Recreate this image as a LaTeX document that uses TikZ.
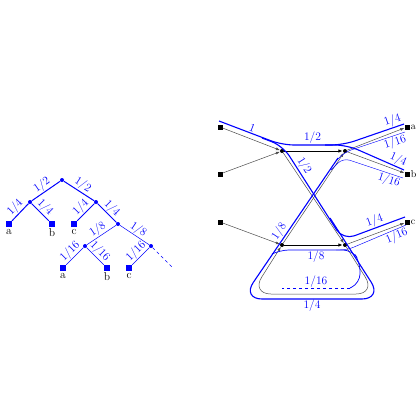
\documentclass[tikz,border=0pt]{standalone}
\usetikzlibrary{arrows.meta}
\begin{document}
\begin{tikzpicture}[x=1pt,y=-1pt,
  dot/.style={circle,fill=blue,inner sep=0pt,minimum size=4pt},
  leaf/.style={rectangle,fill=blue,inner sep=0pt,minimum size=6pt},
  bdot/.style={circle,fill=black,inner sep=0pt,minimum size=4pt},
  sq/.style={rectangle,fill=black,inner sep=0pt,minimum size=5pt},
  tedge/.style={blue,line width=1pt},
  tthin/.style={blue,line width=0.5pt},
  lab/.style={blue,inner sep=0.8pt,font=\fontsize{11.5}{13}\selectfont},
  llab/.style={font=\fontsize{11.5}{13}\selectfont,inner sep=1.5pt},
  garr/.style={draw=black!70,line width=0.5pt,-{Latex[length=4pt,width=3pt]}},
  barr/.style={black,line width=0.9pt,-{Latex[length=4.5pt,width=3.5pt]}},
  fA/.style={blue,line width=1.1pt,rounded corners=12pt},
  fB/.style={blue,line width=0.7pt,rounded corners=9pt},
  fC/.style={blue,line width=0.45pt,rounded corners=7pt},
]
\useasboundingbox (0,0) rectangle (420,420);
% ---------- tree ----------
\node[dot] (r) at (62,180) {};
\node[dot] (n1) at (30,202) {};
\node[dot] (n2) at (96,202) {};
\node[leaf] (a1) at (9,224) {};
\node[leaf] (b1) at (52,224) {};
\node[leaf] (c1) at (74,224) {};
\node[dot] (n3) at (118,224) {};
\node[dot] (n4) at (85,246) {};
\node[dot] (n5) at (151,246) {};
\node[leaf] (a2) at (63,268) {};
\node[leaf] (b2) at (107,268) {};
\node[leaf] (c2) at (129,268) {};
\coordinate (e) at (173,268);
\node[llab,below=0pt] (la1) at (a1.south) {a};
\node[llab,below=0pt] (lb1) at (b1.south) {b};
\node[llab,below=0pt] (lc1) at (c1.south) {c};
\node[llab,below=0pt] (la2) at (a2.south) {a};
\node[llab,below=0pt] (lb2) at (b2.south) {b};
\node[llab,below=0pt] (lc2) at (c2.south) {c};
\draw[tedge] (r) -- node[lab,above,sloped]{1/2} (n1);
\draw[tedge] (r) -- node[lab,above,sloped]{1/2} (n2);
\draw[tedge] (n1) -- node[lab,above,sloped]{1/4} (a1);
\draw[tedge] (n1) -- node[lab,above,sloped]{1/4} (b1);
\draw[tedge] (n2) -- node[lab,above,sloped]{1/4} (c1);
\draw[tedge] (n2) -- node[lab,above,sloped]{1/4} (n3);
\draw[tthin] (n3) -- node[lab,above,sloped]{1/8} (n4);
\draw[tthin] (n3) -- node[lab,above,sloped]{1/8} (n5);
\draw[tthin] (n4) -- node[lab,above,sloped]{1/16} (a2);
\draw[tthin] (n4) -- node[lab,above,sloped]{1/16} (b2);
\draw[tthin] (n5) -- node[lab,above,sloped]{1/16} (c2);
\draw[tthin,dashed] (n5) -- (e);
% ---------- network ----------
\node[sq] (s1) at (220,127) {};
\node[sq] (s2) at (220,174) {};
\node[sq] (s3) at (220,222) {};
\node[bdot] (A) at (282,151) {};
\node[bdot] (B) at (345,151) {};
\node[bdot] (C) at (282,245) {};
\node[bdot] (D) at (345,245) {};
\node[sq] (ta) at (407,127) {};
\node[sq] (tb) at (407,174) {};
\node[sq] (tc) at (407,222) {};
\node[right=0pt,inner sep=1pt] (lta) at (ta.east) {a};
\node[right=0pt,inner sep=1pt] (ltb) at (tb.east) {b};
\node[right=0pt,inner sep=1pt] (ltc) at (tc.east) {c};
\draw[garr] (s1) -- (A);
\draw[garr] (s2) -- (A);
\draw[garr] (s3) -- (C);
\draw[barr] (A) -- (B);
\draw[barr] (C) -- (D);
\draw[garr] (A) -- (D);
\draw[garr] (C) -- (B);
\draw[garr] (B) -- (ta);
\draw[garr] (B) -- (tb);
\draw[garr] (D) -- (tc);
\draw[garr,rounded corners=20pt] (D) -- (376,294) -- (251,294) -- (C);
% flows
\draw[fA] (219,121) -- node[lab,above,sloped]{1} (282,145) -- node[lab,above]{1/2} (343,145) -- node[lab,above,sloped,pos=.85]{1/4} (404,124);
\draw[fA] (325,145) -- (347,145) -- node[lab,above,sloped,pos=.85]{1/4} (404,170);
\draw[fA] (262,138) -- (283,146) -- node[lab,above,sloped,pos=.25]{1/2} (343,240) -- node[lab,above,sloped,pos=.55]{1/4} (405,217);
\draw[fA,rounded corners=20pt] (330,218) -- (382,299) -- node[lab,below]{1/4} (242,299) -- node[lab,above,sloped,pos=.45]{1/8} (338,158);
\draw[fC] (336,161) -- (345,152) -- node[lab,below,sloped,pos=.8]{1/16} (405,132);
\draw[fC] (331,170) -- (343,158) -- node[lab,below,sloped,pos=.8]{1/16} (403,178);
\draw[fB] (272,254) -- (280,250) -- node[lab,below]{1/8} (352,250) -- (360,262) -- (360,283) -- (350,288);
\draw[fC,dashed] (350,288) -- node[lab,above]{1/16} (282,288);
\draw[fC] (336,250) -- (347,250) -- node[lab,below,sloped,pos=.8]{1/16} (406,225);
\end{tikzpicture}
\end{document}
